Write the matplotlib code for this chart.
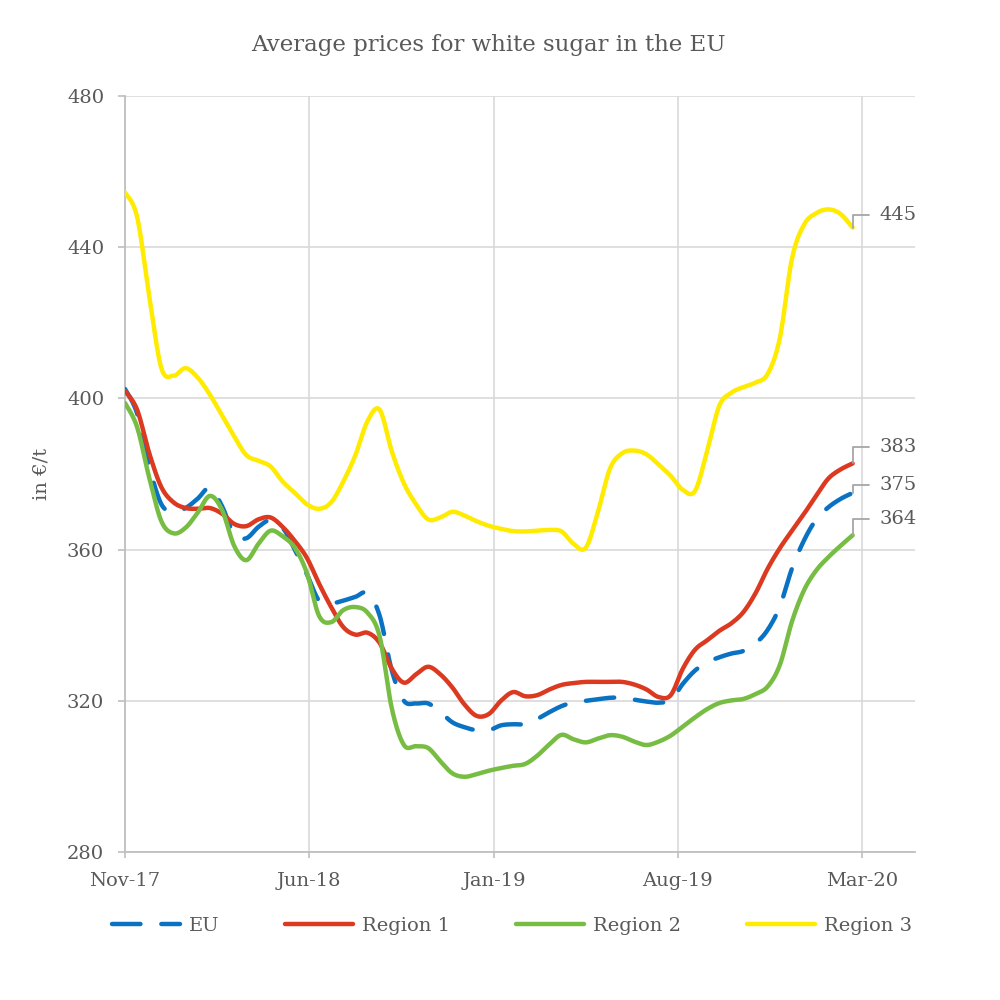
import numpy as np
import pandas as pd
import matplotlib
matplotlib.use("Agg")
import matplotlib.pyplot as plt
import matplotlib.dates as mdates

# two-weekly price readings, EUR per tonne
dates = pd.date_range("2017-11-01", periods=61, freq="14D")

eu = [402.5, 396, 382, 372, 370, 371, 373.5, 376.3, 371.5, 364,
      363, 366, 367.8, 365.8, 360, 353.5, 346.5, 345.8, 346.5, 347.5,
      348.5, 342.5, 328, 320, 319.3, 319.3, 317, 314.3, 313, 312.2,
      312.2, 313.5, 313.8, 313.8, 315.2, 317, 318.6, 319.6, 320, 320.4,
      320.8, 320.8, 320.3, 319.8, 319.5, 320.2, 324.5, 328, 330.2, 331.5,
      332.5, 333.2, 335.2, 338.8, 345, 355, 362.5, 368, 371.2, 373.4,
      375]
region1 = [402, 397, 385.5, 376.5, 372.5, 371, 370.8, 371, 369.5, 366.8,
           366.2, 368, 368.5, 366, 362.3, 357.8, 351, 344.8, 339.5, 337.5,
           338, 335.3, 328.5, 324.8, 327, 329, 327, 323.5, 319, 316,
           316.5, 320, 322.3, 321.2, 321.5, 323, 324.2, 324.7, 325, 325,
           325, 325, 324.3, 323, 321, 321.5, 328.5, 333.5, 336, 338.5,
           340.5, 343.5, 348.5, 355, 360.4, 365, 369.5, 374.3, 378.8, 381.2,
           382.8]
region2 = [398.8, 392.4, 379, 367.5, 364.3, 365.8, 369.8, 374.2, 370.5, 361,
           357.2, 361.5, 365, 363.5, 360.5, 353.8, 342.5, 340.8, 344, 344.8,
           343.3, 337, 318, 308.3, 308, 307.5, 304, 300.8, 299.9, 300.6,
           301.5, 302.2, 302.8, 303.3, 305.5, 308.5, 311, 309.8, 309, 310,
           310.9, 310.5, 309.2, 308.3, 309.2, 310.8, 313.2, 315.6, 317.8, 319.4,
           320.1, 320.5, 321.8, 323.8, 329.5, 341, 349.3, 354.5, 358, 361,
           363.8]
region3 = [454.5, 448, 427, 408, 406, 408, 405.5, 401, 395.5, 390,
           385, 383.5, 382, 378, 375, 372, 370.8, 372.5, 378, 385,
           394, 397, 386, 377.5, 372, 368, 368.5, 370, 369, 367.5,
           366.3, 365.5, 364.9, 364.8, 365, 365.2, 364.8, 361.5, 360.5, 370,
           381.5, 385.5, 386.2, 385.2, 382.5, 379.5, 375.8, 375.5, 386, 398,
           401.5, 403, 404.2, 406.5, 416, 437, 446, 449, 450, 448.8,
           445.2]

names = ["EU", "Region 1", "Region 2", "Region 3"]
colors = ["#0a72c2", "#db3a21", "#77bd43", "#ffeb00"]
label_dy = [6, 11.5, 11.5, 9]   # label offsets above line end, points

tick_dates = pd.to_datetime(["2017-11-01", "2018-06-01", "2019-01-01",
                             "2019-08-01", "2020-03-01"])


def smooth(x, y, n=12):
    # Catmull-Rom curve through the points (like Excel's smoothed line)
    x = np.asarray(x, float)
    y = np.asarray(y, float)
    xp = np.r_[x[0], x, x[-1]]
    yp = np.r_[y[0], y, y[-1]]
    t = np.linspace(0, 1, n, endpoint=False)[:, None]
    def cr(p):
        p0, p1, p2, p3 = p[:-3], p[1:-2], p[2:-1], p[3:]
        return 0.5 * (2 * p1 + (-p0 + p2) * t
                      + (2 * p0 - 5 * p1 + 4 * p2 - p3) * t ** 2
                      + (-p0 + 3 * p1 - 3 * p2 + p3) * t ** 3)
    sx = np.r_[cr(xp).T.ravel(), x[-1]]
    sy = np.r_[cr(yp).T.ravel(), y[-1]]
    return sx, sy


plt.rcParams["font.family"] = ["DejaVu Serif"]
text_col = "#595959"
grid_col = "#d9d9d9"
axis_col = "#bfbfbf"

fig = plt.figure(figsize=(10, 10), dpi=100)
ax = fig.add_axes([0.125, 0.148, 0.79, 0.756])

xnum = mdates.date2num(dates)
series = [eu, region1, region2, region3]
for name, vals, col, dy in zip(names, series, colors, label_dy):
    sx, sy = smooth(xnum, vals)
    if name == "EU":
        ax.plot(sx, sy, color=col, lw=3.2, dashes=(6.4, 4.7),
                dash_capstyle="round", label=name, zorder=3)
    else:
        ax.plot(sx, sy, color=col, lw=3.2, solid_capstyle="round",
                label=name, zorder=3)
    ax.annotate(f"{round(vals[-1])}", xy=(xnum[-1], vals[-1]),
                xytext=(19, dy), textcoords="offset points",
                ha="left", va="center", fontsize=14, color=text_col,
                arrowprops=dict(arrowstyle="-", color="#a6a6a6", lw=1.3,
                                shrinkA=5, shrinkB=0,
                                connectionstyle="angle,angleA=0,angleB=90,rad=0"))

ax.set_ylim(280, 480)
ax.set_yticks(np.arange(280, 481, 40))
ax.set_xlim(mdates.date2num(pd.Timestamp("2017-11-01")),
            mdates.date2num(pd.Timestamp("2020-05-01")))
ax.set_xticks(mdates.date2num(tick_dates))
ax.xaxis.set_major_formatter(mdates.DateFormatter("%b-%y"))

ax.grid(True, color=grid_col, lw=1.2)
ax.set_axisbelow(True)
for s in ["top", "right"]:
    ax.spines[s].set_visible(False)
for s in ["left", "bottom"]:
    ax.spines[s].set_color(axis_col)
    ax.spines[s].set_linewidth(1.3)
ax.tick_params(axis="y", length=5, width=1.2, color=axis_col, pad=10,
               labelsize=14, labelcolor=text_col)
ax.tick_params(axis="x", length=4.5, width=1.2, color=axis_col, pad=10,
               labelsize=14, labelcolor=text_col)

fig.text(0.488, 0.955, "Average prices for white sugar in the EU",
         ha="center", va="center", fontsize=16.5, color=text_col)
fig.text(0.042, 0.526, "in €/t", rotation=90, ha="center", va="center",
         fontsize=14, color=text_col)

fig.legend(loc="center", bbox_to_anchor=(0.512, 0.074), ncol=4,
           frameon=False, fontsize=14, labelcolor=text_col,
           handlelength=3.5, handletextpad=0.45, columnspacing=3.4)

fig.savefig("out.png", dpi=100)
